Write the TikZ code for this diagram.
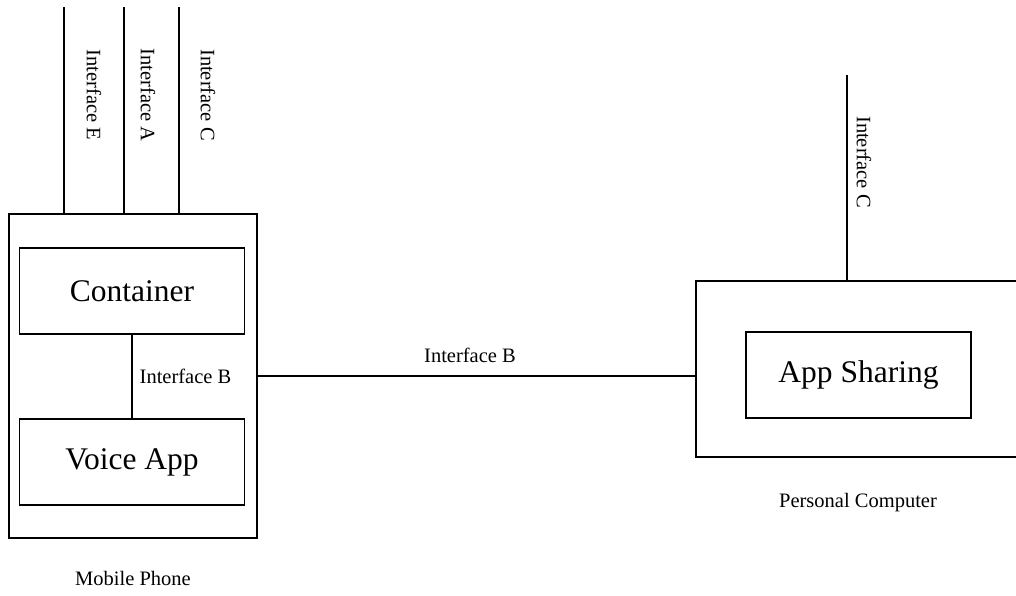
\documentclass[tikz,border=0pt]{standalone}
\usepackage{fontspec}
\setmainfont{Liberation Serif}
\usepackage{tikz}
\usetikzlibrary{positioning}

\begin{document}
\begin{tikzpicture}[x=1pt, y=-1pt,
      box/.style={rectangle, draw=black, line width=1.5pt, inner sep=0pt},
      app/.style={box, minimum width=225pt, minimum height=86pt, font=\fontsize{31.5}{36}\selectfont},
      label/.style={font=\fontsize{20.5}{24}\selectfont, inner sep=0pt},
      vlabel/.style={label, rotate=-90},
      wire/.style={line width=1.5pt},
    ]
    \clip (0,0) rectangle (1016,595);
    \useasboundingbox (0,0) rectangle (1016,595);

    % mobile phone
    \node[box, minimum width=248pt, minimum height=324pt] (phone) at (133,376) {};
    \node[app] (container) at (132,291) {Container};
    \node[app] (voice) at (132,462) {Voice App};
    \node[label] (phonelbl) at (133,578) {Mobile Phone};
    \draw[wire] (container.south) -- (voice.north);
    \node[label] (ifbin) at (185.5,376) {Interface B};

    % interfaces on top of the phone
    \coordinate (etop) at (64,7);
    \coordinate (atop) at (124,7);
    \coordinate (ctop) at (179,7);
    \draw[wire] (etop) -- (etop |- phone.north);
    \draw[wire] (atop) -- (atop |- phone.north);
    \draw[wire] (ctop) -- (ctop |- phone.north);
    \node[vlabel] (ifE) at (94,95) {Interface E};
    \node[vlabel] (ifA) at (148,95) {Interface A};
    \node[vlabel] (ifC) at (208,95) {Interface C};

    % personal computer
    \node[box, minimum width=340pt, minimum height=176pt] (pc) at (866,369) {};
    \node[app] (sharing) at (858.5,375) {App Sharing};
    \node[label] (pclbl) at (858,503) {Personal Computer};
    \coordinate (pctop) at (847,75);
    \draw[wire] (pctop) -- (pctop |- pc.north);
    \node[vlabel] (ifCpc) at (864,162) {Interface C};

    % link between phone and pc
    \draw[wire] (phone.east) -- (pc.west |- phone.east);
    \node[label] (ifbout) at (470,355) {Interface B};
  \end{tikzpicture}
\end{document}
